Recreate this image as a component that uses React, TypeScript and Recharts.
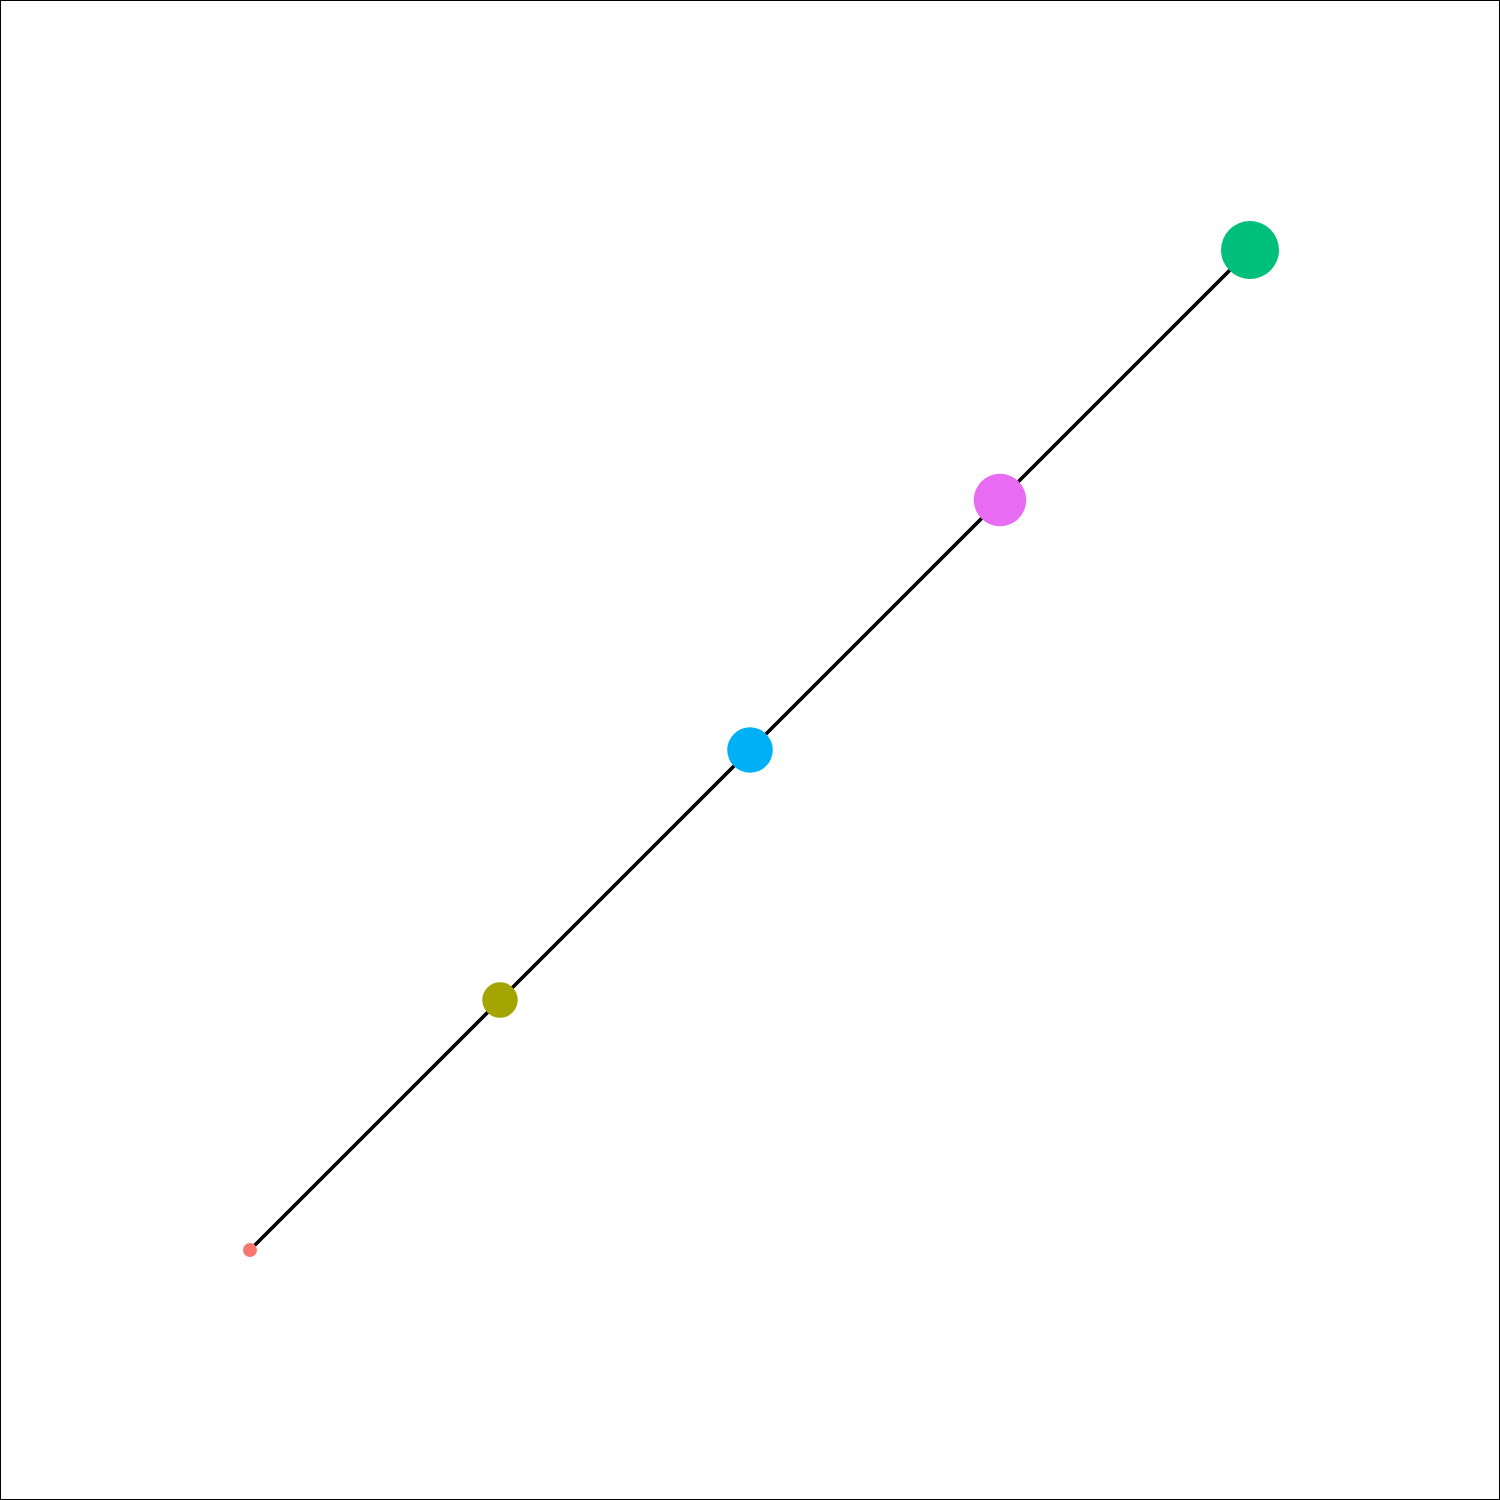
import React from "react";
import { ScatterChart, Scatter, XAxis, YAxis, ZAxis, Cell } from "recharts";

const xValues = [1, 2, 3, 4, 5];
const yValues = [1, 2, 3, 4, 5];
const sizeValues = [1, 2, 3, 4, 5];
const pointColors = ["#F8766D", "#A3A500", "#00B0F6", "#E76BF3", "#00BF7D"];

const data = xValues.map((x, i) => ({ x, y: yValues[i], z: sizeValues[i] }));

export default function App() {
  return (
    <div
      style={{
        position: "absolute",
        left: 0,
        top: 0,
        width: 1500,
        height: 1500,
        background: "#ffffff",
      }}
    >
      <ScatterChart width={1500} height={1500} margin={{ top: 0, right: 0, bottom: 0, left: 0 }}>
        <XAxis type="number" dataKey="x" domain={[0, 6]} hide />
        <YAxis type="number" dataKey="y" domain={[0, 6]} hide />
        <ZAxis type="number" dataKey="z" domain={[1, 5]} range={[154, 2642]} scale="sqrt" />
        <Scatter
          data={data}
          isAnimationActive={false}
          line={{ stroke: "#000000", strokeWidth: 3.6 }}
          lineType="joint"
          shape="circle"
        >
          {data.map((d, i) => (
            <Cell key={i} fill={pointColors[i]} />
          ))}
        </Scatter>
      </ScatterChart>
      <div
        style={{
          position: "absolute",
          left: 0,
          top: 0,
          width: 1500,
          height: 1500,
          border: "1px solid #000",
          boxSizing: "border-box",
          pointerEvents: "none",
        }}
      />
    </div>
  );
}
